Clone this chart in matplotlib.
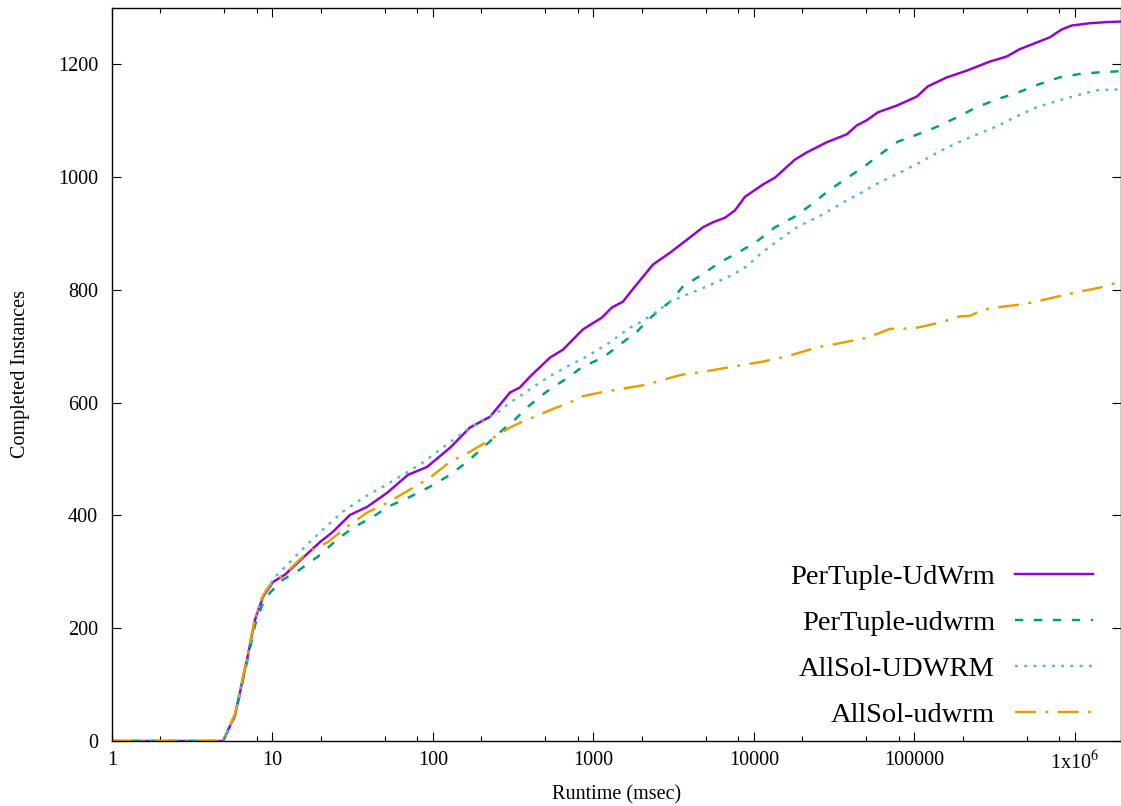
import matplotlib
matplotlib.use("Agg")
import matplotlib.pyplot as plt
from matplotlib.ticker import FixedLocator, NullFormatter

plt.rcParams['font.family'] = ['Liberation Serif', 'DejaVu Serif']
plt.rcParams['mathtext.fontset'] = 'stix'

# runtime (msec) / completed instances
pt_upper_x = [1, 4.92, 5.84, 6.94, 7.78, 8.73, 10.07, 11.96, 15.5, 19.8, 23.8, 30.4, 38.8,
              51.7, 69.8, 91.8, 127.7, 170, 226.6, 302, 348, 402, 536, 646, 860, 1130,
              1304, 1527, 1688, 2350, 3000, 3828, 4810, 5555, 6600, 7620, 8790, 11380,
              13520, 17990, 21380, 28500, 37940, 43850, 50580, 59260, 77840, 103700,
              121400, 159400, 212400, 255900, 295200, 376700, 454000, 547000, 698000,
              829000, 958000, 1240000, 1580000, 1940000]
pt_upper_y = [0, 0, 46, 144, 215, 256, 282, 295, 325, 353, 371, 401, 415,
              440, 472, 486, 520, 556, 575, 618, 627, 646, 680, 694, 730, 751,
              769, 779, 795, 845, 866, 889, 911, 920, 928, 941, 965, 987,
              999, 1031, 1044, 1062, 1076, 1092, 1101, 1115, 1127, 1143,
              1161, 1177, 1189, 1198, 1205, 1214, 1227, 1236, 1248,
              1262, 1269, 1273, 1275, 1276]

pt_lower_x = [1, 4.92, 5.84, 6.94, 7.78, 8.73, 9.65, 11.6, 14.8, 19.8, 25.2, 31.7, 42.3,
              54.0, 71.9, 95.8, 127.7, 162.8, 205, 250.6, 324, 402, 513, 664, 860,
              1146, 1463, 1866, 2314, 2998, 3612, 4744, 6141, 7946, 10440, 13520,
              17990, 22970, 28900, 36900, 47760, 60960, 78900, 105200, 140000, 184000,
              245000, 326600, 441400, 587900, 806300, 1070000, 1430000, 1940000]
pt_lower_y = [0, 0, 44, 140, 205, 245, 263, 286, 304, 330, 357, 378, 398,
              417, 433, 451, 472, 495, 520, 543, 570, 596, 620, 641, 664,
              680, 703, 726, 753, 779, 806, 827, 849, 866, 886, 911,
              930, 952, 975, 996, 1017, 1040, 1063, 1076, 1090, 1106,
              1124, 1138, 1150, 1164, 1177, 1183, 1186, 1188]

as_upper_x = [1, 4.92, 5.84, 6.94, 7.78, 8.73, 10.4, 12.9, 16.4, 20.6, 27.5, 36.6, 48.8,
              65.0, 86.6, 122.3, 163, 205, 250.6, 302, 385, 513, 684, 911, 1267, 1688,
              1950, 2488, 2998, 3828, 5095, 7400, 9040, 10890, 13900, 18530, 26900,
              35900, 47100, 60960, 81300, 108200, 144200, 192000, 255900, 326600,
              435300, 579600, 772600, 1030000, 1370000, 1940000]
as_upper_y = [0, 0, 46, 146, 218, 260, 291, 318, 348, 375, 407, 431, 451,
              472, 494, 526, 552, 570, 582, 600, 620, 644, 664, 682, 707, 733,
              742, 762, 779, 792, 806, 827, 842, 863, 886, 911, 934,
              955, 973, 991, 1008, 1026, 1046, 1063, 1078, 1090,
              1108, 1124, 1135, 1145, 1154, 1156]

as_lower_x = [1, 4.92, 5.84, 6.94, 7.78, 8.73, 9.65, 12.3, 16.4, 22.2, 29.1, 38.8, 52.4,
              71.9, 95.8, 127.7, 170, 226.6, 302, 359, 464, 560, 684, 848, 1097, 1688,
              2155, 2998, 3612, 4170, 5880, 8180, 11380, 16070, 19360, 24710, 31060,
              37940, 50580, 60960, 70310, 84760, 103700, 144200, 192000, 221800,
              267300, 326600, 454000, 547000, 698000, 891000, 1070000, 1430000,
              1730000, 1940000]
as_lower_y = [0, 0, 48, 148, 218, 258, 277, 300, 334, 353, 380, 405, 423,
              446, 467, 495, 513, 534, 556, 566, 579, 589, 598, 611, 618, 627,
              632, 644, 650, 652, 659, 666, 673, 682, 689, 698, 703,
              708, 715, 724, 731, 731, 733, 742, 753, 754,
              765, 769, 774, 778, 785, 792, 797, 804,
              811, 815]

labels = ['PerTuple-UdWrm', 'PerTuple-udwrm', 'AllSol-UDWRM', 'AllSol-udwrm']
colors = ['#9400d3', '#009e73', '#56b4e9', '#e69f00']

x_major = [1, 10, 100, 1000, 10000, 100000, 1000000]
x_major_labels = ['1', '10', '100', '1000', '10000', '100000', r'1x10$^{6}$']
y_major = [0, 200, 400, 600, 800, 1000, 1200]

fig = plt.figure(figsize=(11.21, 8.06), dpi=100)
ax = fig.add_axes([112 / 1121, 1 - 741 / 806, 1 - 112 / 1121, (741 - 8) / 806])

lw = 1.75
ax.plot(pt_upper_x, pt_upper_y, color=colors[0], lw=lw, label=labels[0])
ax.plot(pt_lower_x, pt_lower_y, color=colors[1], lw=lw, dashes=(3.4, 4.4), label=labels[1])
ax.plot(as_upper_x, as_upper_y, color=colors[2], lw=lw, dashes=(1.2, 2.6), label=labels[2])
ax.plot(as_lower_x, as_lower_y, color=colors[3], lw=lw, dashes=(8.6, 3.9, 1.2, 3.9), label=labels[3])

ax.set_xscale('log')
ax.set_xlim(1, 1.94e6)
ax.set_ylim(0, 1300)

ax.xaxis.set_major_locator(FixedLocator(x_major))
ax.set_xticks(x_major, x_major_labels)
minor = [m * 10 ** d for d in range(0, 7) for m in (2, 5, 8)]
ax.xaxis.set_minor_locator(FixedLocator(minor))
ax.xaxis.set_minor_formatter(NullFormatter())
ax.set_yticks(y_major)

ax.tick_params(which='both', direction='in', top=True, right=True, width=0.8, labelsize=14.5)
ax.tick_params(which='major', length=6.8)
ax.tick_params(which='minor', length=3.3)
ax.tick_params(axis='x', pad=7)
ax.tick_params(axis='y', pad=10)
for s in ax.spines.values():
    s.set_linewidth(1.0)

ax.set_xlabel('Runtime (msec)', fontsize=14.5, labelpad=8)
ax.set_ylabel('Completed Instances', fontsize=14.5, labelpad=20)

ax.legend(loc='lower right', bbox_to_anchor=(1093 / 1121, 1 - 728 / 806),
          bbox_transform=fig.transFigure, frameon=False, markerfirst=False,
          fontsize=20.5, handlelength=2.75, handletextpad=0.7, labelspacing=0.71,
          borderpad=0, borderaxespad=0)

fig.savefig('out.png', dpi=100)
